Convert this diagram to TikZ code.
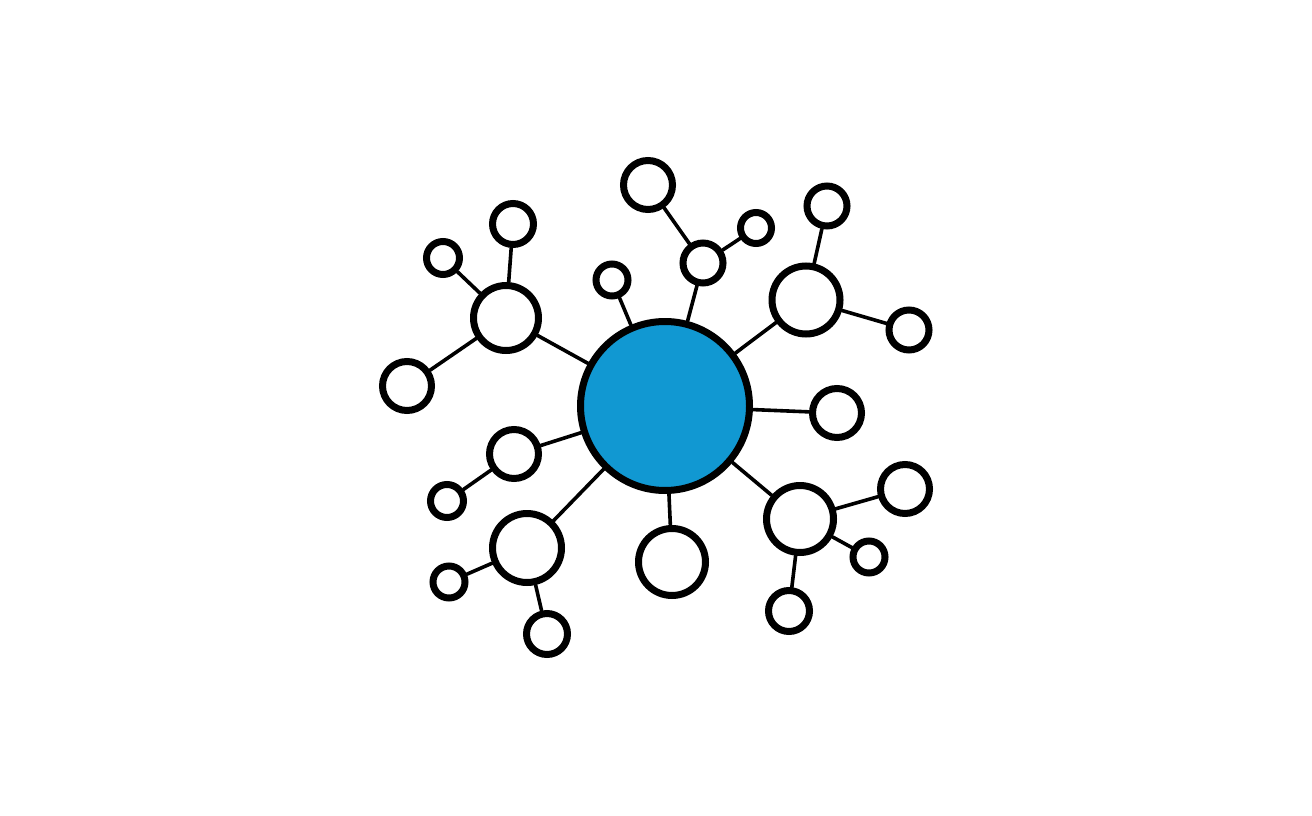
\documentclass[tikz,border=0pt]{standalone}
\definecolor{hubblue}{RGB}{17,152,210}
\tikzset{
  hub/.style={circle,draw=black,line width=7pt,fill=hubblue,inner sep=0pt,minimum size=#1},
  ball/.style={circle,draw=black,line width=7pt,fill=white,inner sep=0pt,minimum size=#1},
  link/.style={draw=black,line width=3.6pt,line cap=round}
}
\begin{document}
\begin{tikzpicture}[x=1pt,y=-1pt]
\useasboundingbox (0,0) rectangle (1312,816);
\node[hub=169] (c) at (665,406) {};
% upper left
\node[ball=65] (A) at (506,318) {};
\node[ball=41] (A1) at (513,224) {};
\node[ball=33] (A2) at (443,258) {};
\node[ball=49] (A3) at (407,386) {};
\node[ball=32] (B) at (612,280) {};
% top
\node[ball=40] (C) at (703,263) {};
\node[ball=49] (C1) at (648,185) {};
\node[ball=31] (C2) at (756,228) {};
% upper right
\node[ball=68] (D) at (806,300) {};
\node[ball=40] (D1) at (827,206) {};
\node[ball=40] (D2) at (909,330) {};
\node[ball=49] (E) at (837,413) {};
% lower right
\node[ball=67] (F) at (800,519) {};
\node[ball=49] (F1) at (905,489) {};
\node[ball=32] (F2) at (869,557) {};
\node[ball=41] (F3) at (789,611) {};
\node[ball=67] (G) at (672,562) {};
% lower left
\node[ball=69] (H) at (527,548) {};
\node[ball=32] (H1) at (449,582) {};
\node[ball=41] (H2) at (547,634) {};
\node[ball=49] (I) at (514,454) {};
\node[ball=33] (I1) at (447,501) {};
% connectors
\path[link] (c) -- (A);
\path[link] (A) -- (A1);
\path[link] (A) -- (A2);
\path[link] (A) -- (A3);
\path[link] (c) -- (B);
\path[link] (c) -- (C);
\path[link] (C) -- (C1);
\path[link] (C) -- (C2);
\path[link] (c) -- (D);
\path[link] (D) -- (D1);
\path[link] (D) -- (D2);
\path[link] (c) -- (E);
\path[link] (c) -- (F);
\path[link] (F) -- (F1);
\path[link] (F) -- (F2);
\path[link] (F) -- (F3);
\path[link] (c) -- (G);
\path[link] (c) -- (H);
\path[link] (H) -- (H1);
\path[link] (H) -- (H2);
\path[link] (c) -- (I);
\path[link] (I) -- (I1);
\end{tikzpicture}
\end{document}
